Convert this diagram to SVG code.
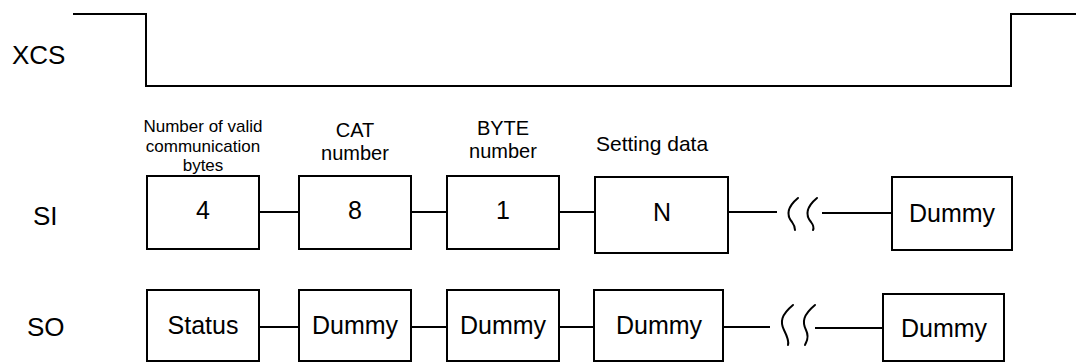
<svg xmlns="http://www.w3.org/2000/svg" width="1076" height="363" viewBox="0 0 1076 363">
  <style>
    .sig { font-family: "Liberation Sans", Arial, sans-serif; font-size: 26px; fill: #000; }
    .hdr { font-family: "Liberation Sans", Arial, sans-serif; fill: #000; text-anchor: middle; }
    .val { font-family: "Liberation Sans", Arial, sans-serif; font-size: 25px; fill: #000; text-anchor: middle; }
    .box { fill: #fff; stroke: #000; stroke-width: 2; }
    .wire { fill: none; stroke: #000; stroke-width: 2; }
    .brk { fill: none; stroke: #000; stroke-width: 2; stroke-linecap: round; }
  </style>

  <!-- chip-select waveform -->
  <g id="xcs">
    <text class="sig" x="12" y="64">XCS</text>
    <path class="wire" d="M73,14 H146 V86 H1011 V14 H1076"/>
  </g>

  <!-- row labels -->
  <g id="labels">
    <text class="sig" x="33" y="225">SI</text>
    <text class="sig" x="27" y="336">SO</text>
  </g>

  <!-- field captions above SI -->
  <g id="captions">
    <text class="hdr" font-size="17" x="203" y="132">Number of valid</text>
    <text class="hdr" font-size="17" x="203" y="152">communication</text>
    <text class="hdr" font-size="17" x="203" y="171">bytes</text>
    <text class="hdr" font-size="20" x="355" y="137">CAT</text>
    <text class="hdr" font-size="20" x="355" y="160">number</text>
    <text class="hdr" font-size="20" x="503" y="135">BYTE</text>
    <text class="hdr" font-size="20" x="503" y="158">number</text>
    <text class="hdr" font-size="21" x="596" y="151" style="text-anchor:start">Setting data</text>
  </g>

  <!-- connectors -->
  <g id="connectors">
    <path class="wire" d="M259,212 H299 M411,212 H447 M559,212 H595 M728,212 H777 M822,213 H892"/>
    <path class="brk" d="M798,198 C786,208 787,216 792,222 C795,226 795,228 795,230"/>
    <path class="brk" d="M817,198 C805,208 806,216 811,222 C814,226 814,228 813,230"/>
    <path class="wire" d="M259,327 H299 M411,327 H447 M559,327 H594 M723,327 H770 M815,328 H883"/>
    <path class="brk" d="M793,305 C781,315 780,322 784,330 C788,338 789,342 788,345"/>
    <path class="brk" d="M815,305 C803,315 802,322 806,330 C810,338 806,342 805,345"/>
  </g>

  <!-- SI fields -->
  <g id="si-count">
    <rect class="box" x="147" y="176" width="112" height="73"/>
    <text class="val" x="203" y="219">4</text>
  </g>
  <g id="si-cat">
    <rect class="box" x="299" y="176" width="112" height="73"/>
    <text class="val" x="355" y="219">8</text>
  </g>
  <g id="si-byte">
    <rect class="box" x="447" y="176" width="112" height="73"/>
    <text class="val" x="503" y="219">1</text>
  </g>
  <g id="si-data">
    <rect class="box" x="595" y="177" width="133" height="76"/>
    <text class="val" x="662" y="221">N</text>
  </g>
  <g id="si-dummy">
    <rect class="box" x="892" y="177" width="120" height="73"/>
    <text class="val" x="952" y="222">Dummy</text>
  </g>

  <!-- SO fields -->
  <g id="so-status">
    <rect class="box" x="147" y="290" width="112" height="71"/>
    <text class="val" x="203" y="334">Status</text>
  </g>
  <g id="so-dummy1">
    <rect class="box" x="299" y="290" width="112" height="71"/>
    <text class="val" x="355" y="334">Dummy</text>
  </g>
  <g id="so-dummy2">
    <rect class="box" x="447" y="290" width="112" height="71"/>
    <text class="val" x="503" y="334">Dummy</text>
  </g>
  <g id="so-dummy3">
    <rect class="box" x="594" y="290" width="129" height="71"/>
    <text class="val" x="659" y="334">Dummy</text>
  </g>
  <g id="so-dummy4">
    <rect class="box" x="883" y="294" width="121" height="67"/>
    <text class="val" x="944" y="337">Dummy</text>
  </g>
</svg>
